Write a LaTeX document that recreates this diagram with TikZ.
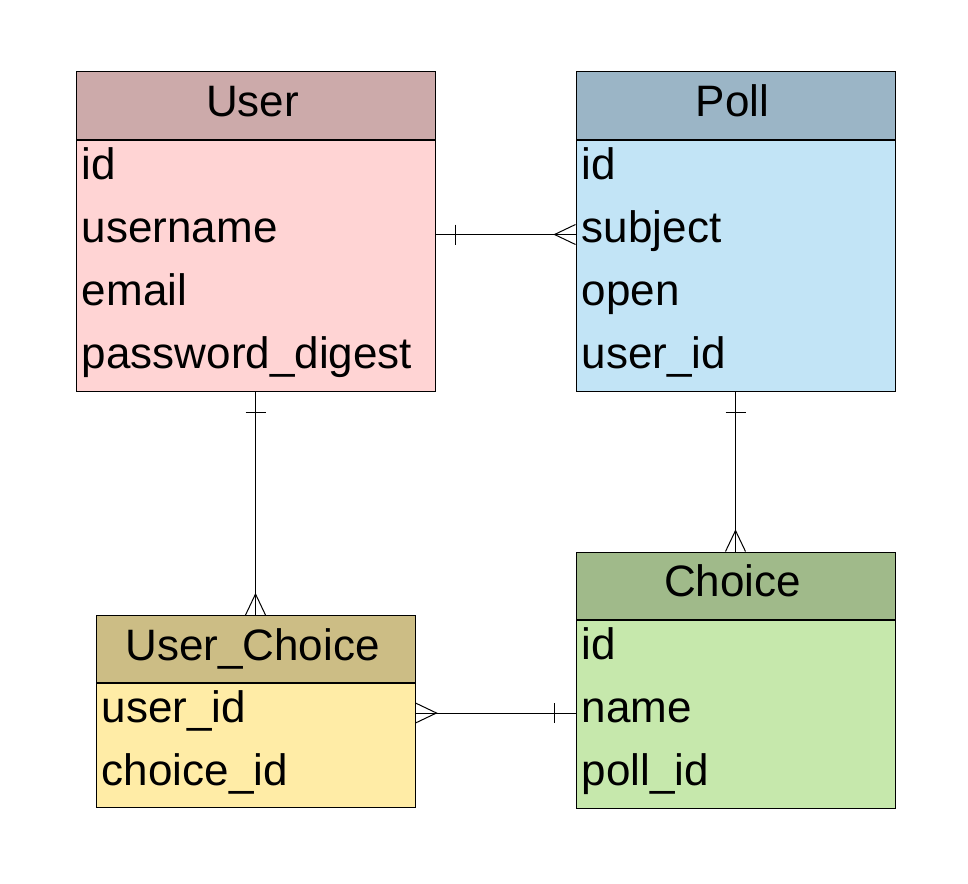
\documentclass[tikz,border=0pt]{standalone}
\usepackage{fontspec}
\setmainfont{Liberation Sans}
\usetikzlibrary{positioning,calc}
\definecolor{userhead}{HTML}{CCAAAA}
\definecolor{userbody}{HTML}{FFD4D4}
\definecolor{pollhead}{HTML}{9BB5C6}
\definecolor{pollbody}{HTML}{C2E4F6}
\definecolor{choicehead}{HTML}{A0BA8A}
\definecolor{choicebody}{HTML}{C6E8AC}
\definecolor{linkhead}{HTML}{CCBD85}
\definecolor{linkbody}{HTML}{FFECA6}
\tikzset{
  tablehead/.style={draw,line width=0.5pt,minimum height=33.5pt,inner sep=0pt,text height=16pt,text depth=4.8pt,font=\fontsize{22}{26}\selectfont},
  tablebody/.style={draw,line width=0.5pt,inner sep=0pt},
  field/.style={anchor=base west,inner sep=0pt,font=\fontsize{22}{26}\selectfont},
  relation/.style={line width=0.5pt},
}
\begin{document}
\begin{tikzpicture}[x=0.5pt,y=-0.5pt]
  \useasboundingbox (0,0) rectangle (968,883);
  % tables
  \node[tablehead,fill=userhead,minimum width=179.5pt] (userH) at (255.5,105.5) {\hspace*{-3pt}User};
  \node[tablebody,fill=userbody,minimum width=179.5pt,minimum height=125.5pt,below=0pt of userH] (userB) {};
  \node[tablehead,fill=pollhead,minimum width=159.5pt] (pollH) at (735.5,105.5) {\hspace*{-3pt}Poll};
  \node[tablebody,fill=pollbody,minimum width=159.5pt,minimum height=125.5pt,below=0pt of pollH] (pollB) {};
  \node[tablehead,fill=linkhead,minimum width=159.5pt] (linkH) at (255.5,649) {\hspace*{-3pt}User\_Choice};
  \node[tablebody,fill=linkbody,minimum width=159.5pt,minimum height=62pt,below=0pt of linkH] (linkB) {};
  \node[tablehead,fill=choicehead,minimum width=159.5pt] (choiceH) at (735.5,585.5) {\hspace*{-3pt}Choice};
  \node[tablebody,fill=choicebody,minimum width=159.5pt,minimum height=94pt,below=0pt of choiceH] (choiceB) {};
  % fields
  \foreach \f [count=\i from 0] in {id,username,email,password\_digest}
    \node[field] (user-\i) at ($(userB.north west)+(3pt,{-19.75pt-31.5pt*\i})$) {\f};
  \foreach \f [count=\i from 0] in {id,subject,open,user\_id}
    \node[field] (poll-\i) at ($(pollB.north west)+(3pt,{-19.75pt-31.5pt*\i})$) {\f};
  \foreach \f [count=\i from 0] in {user\_id,choice\_id}
    \node[field] (link-\i) at ($(linkB.north west)+(3pt,{-19.75pt-31.5pt*\i})$) {\f};
  \foreach \f [count=\i from 0] in {id,name,poll\_id}
    \node[field] (choice-\i) at ($(choiceB.north west)+(3pt,{-19.75pt-31.5pt*\i})$) {\f};
  % user -- poll
  \coordinate (up) at ($(userB.north east)+(0,-47.5pt)$);
  \coordinate (pu) at (pollB.west |- up);
  \draw[relation] (up) -- (pu);
  \draw[relation] ($(up)+(10pt,5pt)$) -- ($(up)+(10pt,-5pt)$);
  \draw[relation] ($(pu)+(0,5pt)$) -- ($(pu)+(-10.5pt,0)$) -- ($(pu)+(0,-5pt)$);
  % user -- user_choice
  \draw[relation] (userB.south) -- (linkH.north);
  \draw[relation] ($(userB.south)+(-5pt,-10.5pt)$) -- ($(userB.south)+(5pt,-10.5pt)$);
  \draw[relation] ($(linkH.north)+(-5pt,0)$) -- ($(linkH.north)+(0,10.5pt)$) -- ($(linkH.north)+(5pt,0)$);
  % poll -- choice
  \draw[relation] (pollB.south) -- (choiceH.north);
  \draw[relation] ($(pollB.south)+(-5pt,-10.5pt)$) -- ($(pollB.south)+(5pt,-10.5pt)$);
  \draw[relation] ($(choiceH.north)+(-5pt,0)$) -- ($(choiceH.north)+(0,10.5pt)$) -- ($(choiceH.north)+(5pt,0)$);
  % user_choice -- choice
  \coordinate (lc) at ($(linkB.north east)+(0,-15pt)$);
  \coordinate (cl) at (choiceB.west |- lc);
  \draw[relation] (lc) -- (cl);
  \draw[relation] ($(cl)+(-10.5pt,5pt)$) -- ($(cl)+(-10.5pt,-5pt)$);
  \draw[relation] ($(lc)+(0,5pt)$) -- ($(lc)+(10.5pt,0)$) -- ($(lc)+(0,-5pt)$);
\end{tikzpicture}
\end{document}
